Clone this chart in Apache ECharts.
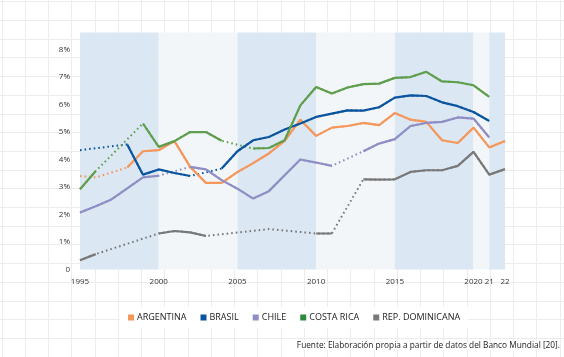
<!DOCTYPE html>
<html><head><meta charset="utf-8">
<script src="https://cdn.jsdelivr.net/npm/echarts@6/dist/echarts.min.js"></script>
<style>html,body{margin:0;padding:0;background:#fff}#c{width:564px;height:357px}</style>
</head><body><div id="c"></div>
<script>
// ---- data ----
const years = [1995,1996,1997,1998,1999,2000,2001,2002,2003,2004,2005,2006,2007,2008,2009,2010,2011,2012,2013,2014,2015,2016,2017,2018,2019,2020,2021,2022];
const tickLabels = ['1995','','','','','2000','','','','','2005','','','','','2010','','','','','2015','','','','','2020','21','22'];
const seriesNames = ['ARGENTINA','BRASIL','CHILE','COSTA RICA','REP. DOMINICANA'];
const argentina = [3.40,3.35,null,3.71,4.30,4.34,4.67,3.73,3.15,3.15,3.54,3.87,4.22,4.68,5.45,4.86,5.16,5.22,5.33,5.25,5.69,5.45,5.37,4.70,4.60,5.16,4.44,4.67];
const brasil    = [4.34,null,null,4.55,3.45,3.64,3.51,3.40,null,3.67,4.30,4.70,4.82,5.09,5.31,5.55,5.67,5.79,5.78,5.90,6.25,6.33,6.31,6.08,5.94,5.73,5.40,null];
const chile     = [2.07,2.30,2.55,2.95,3.35,3.41,null,3.73,3.64,3.25,2.94,2.58,2.85,3.43,4.00,3.89,3.77,null,4.30,4.58,4.74,5.22,5.33,5.37,5.53,5.49,4.80,null];
const costaRica = [2.92,3.58,null,null,5.31,4.46,4.67,5.00,5.00,4.68,null,4.40,4.42,4.70,5.97,6.64,6.40,6.62,6.74,6.76,6.97,7.00,7.19,6.84,6.81,6.70,6.28,null];
const repDom    = [0.34,0.56,null,null,null,1.31,1.40,1.35,1.22,null,null,null,1.47,null,null,1.31,1.31,null,3.28,3.27,3.28,3.55,3.61,3.61,3.77,4.28,3.45,3.65];
// year spans drawn dotted (estimated / missing data)
const argentinaDotted = [[1995,1998]];
const brasilDotted = [[1995,1998],[2002,2004]];
const chileDotted = [[2000,2002],[2011,2013]];
const costaRicaDotted = [[1996,1999],[2004,2006]];
const repDomDotted = [[1996,2000],[2003,2010],[2011,2013]];
const bands = [[1995,2000,'b'],[2000,2005,'l'],[2005,2010,'b'],[2010,2015,'l'],[2015,2020,'b'],[2020,2021,'l'],[2021,2022,'b']];

// ---- styling ----
const colors = ['#f5965a','#0b559f','#8e8ec5','#5e9e4c','#787878'];
const legendColors = ['#f5965a','#0b559f','#8e8ec5','#2f8b3c','#787878'];
const allData = [argentina,brasil,chile,costaRica,repDom];
const allDotted = [argentinaDotted,brasilDotted,chileDotted,costaRicaDotted,repDomDotted];
const cats = years.map(String);

function solidData(vals, spans){
  return vals.map((v,i)=>{
    const y = years[i];
    for (const s of spans){ if (y > s[0] && y < s[1]) return null; }
    return v;
  });
}

const series = [];
seriesNames.forEach((n,k)=>{
  series.push({
    name: n+'_dot', type:'line', data: allData[k], connectNulls:true, showSymbol:false, silent:true,
    lineStyle:{color:colors[k], width:2, type:[1.6,3], cap:'butt'}, z:2
  });
});
seriesNames.forEach((n,k)=>{
  series.push({
    name: n, type:'line', data: solidData(allData[k], allDotted[k]), connectNulls:false, showSymbol:false,
    lineStyle:{color:colors[k], width:2.2}, itemStyle:{color:legendColors[k]}, z:3
  });
});
series[0].markArea = {
  silent:true,
  data: bands.map(b=>[{xAxis:String(b[0]), itemStyle:{color: b[2]==='b' ? '#dbe7f3' : '#f2f6f9'}},{xAxis:String(b[1])}])
};

// background sheet grid
const gfx = [];
for (let k=0;k<=24;k++){ const x = Math.round(1.76+23.24*k)+0.5; gfx.push({type:'line', z:-10, shape:{x1:x,y1:0,x2:x,y2:357}, style:{stroke:'#ececec', lineWidth:1}}); }
for (let k=-1;k<=18;k++){ const y = Math.round(20+18.7*k)+0.5; gfx.push({type:'line', z:-10, shape:{x1:0,y1:y,x2:564,y2:y}, style:{stroke:'#ececec', lineWidth:1}}); }
gfx.push({type:'text', z:10, right:4, top:342, style:{text:'Fuente: Elaboración propia a partir de datos del Banco Mundial [20].', fill:'#1a1a1a', font:'8.3px "Open Sans"', backgroundColor:'#fff'}});

const chart = echarts.init(document.getElementById('c'), null, {renderer:'canvas'});
chart.setOption({
  animation:false,
  backgroundColor:'transparent',
  textStyle:{fontFamily:'"Open Sans", sans-serif'},
  grid:{left:80, right:59, top:32.5, bottom:87.5},
  graphic: gfx,
  legend:{
    data: seriesNames.map((n,k)=>({name:n, itemStyle:{color:legendColors[k]}})),
    left:120, top:307, icon:'rect', itemWidth:6, itemHeight:6, itemGap:14,
    backgroundColor:'#fff', padding:[6,8],
    textStyle:{fontSize:9, color:'#222', padding:[0,0,0,-2]}
  },
  xAxis:{
    type:'category', data:cats, boundaryGap:false,
    axisLine:{show:false}, axisTick:{show:false}, splitLine:{show:false},
    axisLabel:{interval:0, formatter:(v,i)=>tickLabels[i], fontSize:8, color:'#333', margin:8}
  },
  yAxis:{
    type:'value', min:0, max:8.62, interval:1,
    axisLine:{show:false}, axisTick:{show:false}, splitLine:{show:false},
    axisLabel:{fontSize:8, color:'#333', margin:10, formatter:v=> (Math.abs(v-Math.round(v))>1e-6) ? '' : (v===0?'0':v+'%')}
  },
  series: series
});
</script></body></html>
